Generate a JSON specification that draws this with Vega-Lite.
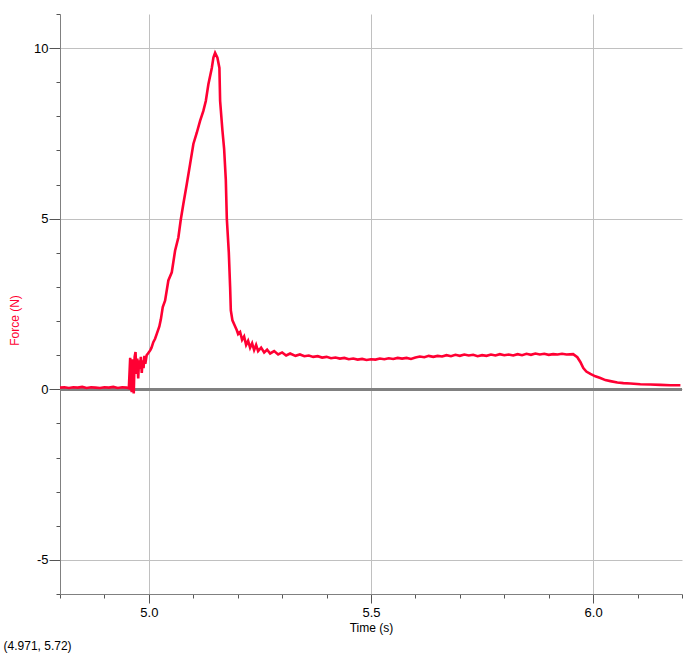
{
  "$schema": "https://vega.github.io/schema/vega-lite/v6.json",
  "width": 622,
  "height": 580,
  "autosize": "none",
  "padding": {"left": 60, "top": 14, "right": 18, "bottom": 63},
  "background": "white",
  "config": {
    "view": {"stroke": null},
    "font": "Liberation Sans",
    "title": {"font": "Liberation Sans", "fontSize": 12, "fontWeight": "normal", "color": "black"}
  },
  "title": {"text": "(4.971, 5.72)", "orient": "bottom", "anchor": "start", "frame": "bounds", "offset": 8, "dx": -5},
  "data": {"values": [
    {"t": 4.800, "f": 0.05}, {"t": 4.810, "f": 0.06}, {"t": 4.820, "f": 0.04}, {"t": 4.830, "f": 0.06},
    {"t": 4.840, "f": 0.05}, {"t": 4.850, "f": 0.07}, {"t": 4.860, "f": 0.04}, {"t": 4.870, "f": 0.06},
    {"t": 4.880, "f": 0.05}, {"t": 4.890, "f": 0.04}, {"t": 4.900, "f": 0.06}, {"t": 4.910, "f": 0.05},
    {"t": 4.920, "f": 0.07}, {"t": 4.930, "f": 0.04}, {"t": 4.940, "f": 0.06}, {"t": 4.950, "f": 0.05},
    {"t": 4.955, "f": 0.03}, {"t": 4.958, "f": 0.92}, {"t": 4.960, "f": 0.10}, {"t": 4.9615, "f": -0.08},
    {"t": 4.963, "f": 0.88}, {"t": 4.965, "f": 0.20}, {"t": 4.966, "f": -0.12}, {"t": 4.968, "f": 0.95},
    {"t": 4.970, "f": 1.09}, {"t": 4.972, "f": 0.45}, {"t": 4.974, "f": 0.90}, {"t": 4.976, "f": 0.32},
    {"t": 4.978, "f": 0.85}, {"t": 4.980, "f": 0.60}, {"t": 4.982, "f": 0.95}, {"t": 4.984, "f": 0.48},
    {"t": 4.986, "f": 0.85}, {"t": 4.988, "f": 0.62}, {"t": 4.990, "f": 0.98}, {"t": 4.992, "f": 0.75},
    {"t": 4.995, "f": 1.00}, {"t": 4.998, "f": 1.05}, {"t": 5.003, "f": 1.14}, {"t": 5.006, "f": 1.22},
    {"t": 5.010, "f": 1.38}, {"t": 5.014, "f": 1.48}, {"t": 5.018, "f": 1.63}, {"t": 5.0236, "f": 1.84},
    {"t": 5.027, "f": 2.05}, {"t": 5.0313, "f": 2.41}, {"t": 5.0365, "f": 2.60}, {"t": 5.0439, "f": 3.19},
    {"t": 5.0516, "f": 3.43}, {"t": 5.0590, "f": 4.06}, {"t": 5.0664, "f": 4.45}, {"t": 5.0718, "f": 4.97},
    {"t": 5.0777, "f": 5.44}, {"t": 5.0854, "f": 6.02}, {"t": 5.0928, "f": 6.60}, {"t": 5.1002, "f": 7.19},
    {"t": 5.1079, "f": 7.52}, {"t": 5.1153, "f": 7.87}, {"t": 5.1227, "f": 8.16}, {"t": 5.1282, "f": 8.45},
    {"t": 5.1340, "f": 8.94}, {"t": 5.1417, "f": 9.42}, {"t": 5.1453, "f": 9.72}, {"t": 5.1491, "f": 9.86},
    {"t": 5.1543, "f": 9.72}, {"t": 5.1588, "f": 9.42}, {"t": 5.1604, "f": 8.45}, {"t": 5.1655, "f": 7.60},
    {"t": 5.1694, "f": 7.05}, {"t": 5.1732, "f": 6.14}, {"t": 5.1755, "f": 5.00}, {"t": 5.1800, "f": 4.00},
    {"t": 5.1829, "f": 3.00}, {"t": 5.1845, "f": 2.31}, {"t": 5.1881, "f": 2.02}, {"t": 5.1940, "f": 1.85},
    {"t": 5.1980, "f": 1.73}, {"t": 5.2009, "f": 1.62}, {"t": 5.2054, "f": 1.68}, {"t": 5.2099, "f": 1.45},
    {"t": 5.2144, "f": 1.55}, {"t": 5.2189, "f": 1.30}, {"t": 5.2234, "f": 1.42}, {"t": 5.2279, "f": 1.22},
    {"t": 5.2324, "f": 1.35}, {"t": 5.2369, "f": 1.15}, {"t": 5.2414, "f": 1.30}, {"t": 5.2459, "f": 1.12},
    {"t": 5.2527, "f": 1.22}, {"t": 5.2595, "f": 1.08}, {"t": 5.2662, "f": 1.16}, {"t": 5.2730, "f": 1.05},
    {"t": 5.2820, "f": 1.12}, {"t": 5.2910, "f": 1.02}, {"t": 5.3000, "f": 1.08}, {"t": 5.3090, "f": 0.99},
    {"t": 5.3180, "f": 1.05}, {"t": 5.33, "f": 0.98}, {"t": 5.34, "f": 1.02}, {"t": 5.35, "f": 0.97},
    {"t": 5.36, "f": 0.99}, {"t": 5.37, "f": 0.95}, {"t": 5.38, "f": 0.97}, {"t": 5.39, "f": 0.93},
    {"t": 5.40, "f": 0.95}, {"t": 5.41, "f": 0.91}, {"t": 5.42, "f": 0.93}, {"t": 5.43, "f": 0.90},
    {"t": 5.44, "f": 0.92}, {"t": 5.45, "f": 0.88}, {"t": 5.46, "f": 0.90}, {"t": 5.47, "f": 0.87},
    {"t": 5.48, "f": 0.89}, {"t": 5.49, "f": 0.86}, {"t": 5.50, "f": 0.88}, {"t": 5.51, "f": 0.87},
    {"t": 5.52, "f": 0.90}, {"t": 5.53, "f": 0.88}, {"t": 5.54, "f": 0.91}, {"t": 5.55, "f": 0.89},
    {"t": 5.56, "f": 0.92}, {"t": 5.57, "f": 0.90}, {"t": 5.58, "f": 0.92}, {"t": 5.59, "f": 0.89},
    {"t": 5.60, "f": 0.93}, {"t": 5.61, "f": 0.96}, {"t": 5.62, "f": 0.94}, {"t": 5.63, "f": 0.98},
    {"t": 5.64, "f": 0.95}, {"t": 5.65, "f": 0.98}, {"t": 5.66, "f": 0.96}, {"t": 5.67, "f": 1.00},
    {"t": 5.68, "f": 0.97}, {"t": 5.69, "f": 1.01}, {"t": 5.70, "f": 0.98}, {"t": 5.71, "f": 1.02},
    {"t": 5.72, "f": 0.99}, {"t": 5.73, "f": 1.01}, {"t": 5.74, "f": 0.97}, {"t": 5.75, "f": 1.00},
    {"t": 5.76, "f": 0.98}, {"t": 5.77, "f": 1.02}, {"t": 5.78, "f": 0.99}, {"t": 5.79, "f": 1.03},
    {"t": 5.80, "f": 1.00}, {"t": 5.81, "f": 1.02}, {"t": 5.82, "f": 0.99}, {"t": 5.83, "f": 1.03},
    {"t": 5.84, "f": 1.00}, {"t": 5.85, "f": 1.04}, {"t": 5.86, "f": 1.01}, {"t": 5.87, "f": 1.05},
    {"t": 5.88, "f": 1.02}, {"t": 5.89, "f": 1.04}, {"t": 5.90, "f": 1.01}, {"t": 5.91, "f": 1.03},
    {"t": 5.92, "f": 1.02}, {"t": 5.93, "f": 1.04}, {"t": 5.94, "f": 1.02}, {"t": 5.955, "f": 1.03},
    {"t": 5.9644, "f": 0.94}, {"t": 5.9712, "f": 0.80}, {"t": 5.9779, "f": 0.62}, {"t": 5.9847, "f": 0.52},
    {"t": 5.9937, "f": 0.45}, {"t": 6.0050, "f": 0.38}, {"t": 6.0162, "f": 0.33}, {"t": 6.0275, "f": 0.27},
    {"t": 6.0387, "f": 0.24}, {"t": 6.0545, "f": 0.20}, {"t": 6.0680, "f": 0.18}, {"t": 6.0838, "f": 0.17},
    {"t": 6.1063, "f": 0.15}, {"t": 6.1288, "f": 0.14}, {"t": 6.1514, "f": 0.13}, {"t": 6.1739, "f": 0.12},
    {"t": 6.1964, "f": 0.12}
  ]},
  "layer": [
    {
      "mark": {"type": "rule", "color": "#808080", "strokeWidth": 2},
      "encoding": {"y": {"datum": 0, "type": "quantitative"}}
    },
    {
      "mark": {"type": "line", "color": "#ff0033", "strokeWidth": 2.6, "interpolate": "linear"},
      "encoding": {
        "x": {
          "field": "t", "type": "quantitative", "title": "Time (s)",
          "scale": {"domain": [4.8, 6.2], "nice": false, "zero": false},
          "axis": {
            "values": [4.8, 4.9, 5.0, 5.1, 5.2, 5.3, 5.4, 5.5, 5.6, 5.7, 5.8, 5.9, 6.0, 6.1, 6.2],
            "tickCount": 20,
            "labelExpr": "abs(datum.value*2 - round(datum.value*2)) < 0.001 ? format(datum.value, '.1f') : ''",
            "grid": true,
            "gridColor": "#c0c0c0",
            "gridWidth": 1,
            "gridOpacity": {"condition": {"test": "abs(datum.value*2 - round(datum.value*2)) < 0.001", "value": 1}, "value": 0},
            "tickSize": {"condition": {"test": "abs(datum.value*2 - round(datum.value*2)) < 0.001", "value": 9}, "value": 4},
            "tickColor": "#555555",
            "domainColor": "#808080",
            "domainWidth": 1,
            "labelFont": "Liberation Sans",
            "labelFontSize": 13,
            "labelColor": "black",
            "labelPadding": 3,
            "labelFlush": false,
            "labelOverlap": false,
            "titleFont": "Liberation Sans",
            "titleFontSize": 12,
            "titleFontWeight": "normal",
            "titleColor": "black",
            "titlePadding": 3
          }
        },
        "y": {
          "field": "f", "type": "quantitative", "title": "Force (N)",
          "scale": {"domain": [-6, 11], "nice": false, "zero": false},
          "axis": {
            "values": [-6, -5, -4, -3, -2, -1, 0, 1, 2, 3, 4, 5, 6, 7, 8, 9, 10, 11],
            "tickCount": 30,
            "labelExpr": "abs(datum.value/5 - round(datum.value/5)) < 0.001 ? ('' + datum.value) : ''",
            "grid": true,
            "gridColor": "#c0c0c0",
            "gridWidth": 1,
            "gridOpacity": {"condition": {"test": "abs(datum.value/5 - round(datum.value/5)) < 0.001", "value": 1}, "value": 0},
            "tickSize": {"condition": {"test": "abs(datum.value/5 - round(datum.value/5)) < 0.001", "value": 11}, "value": 4},
            "tickColor": "#555555",
            "domainColor": "#808080",
            "domainWidth": 1,
            "labelFont": "Liberation Sans",
            "labelFontSize": 13,
            "labelColor": "black",
            "labelPadding": 1,
            "labelFlush": false,
            "labelOverlap": false,
            "titleFont": "Liberation Sans",
            "titleFontSize": 12,
            "titleFontWeight": "normal",
            "titleColor": "#ff0033",
            "titlePadding": 12,
            "titleY": 306
          }
        }
      }
    }
  ]
}
